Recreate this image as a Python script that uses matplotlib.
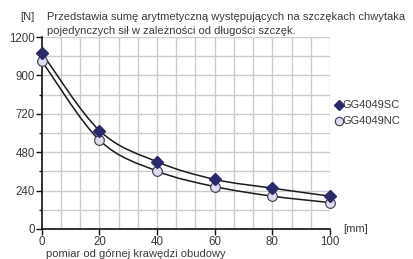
import numpy as np
import matplotlib
matplotlib.use("Agg")
import matplotlib.pyplot as plt
from matplotlib.path import Path
from matplotlib.patches import PathPatch

plt.rcParams['font.family'] = ['Liberation Sans', 'DejaVu Sans']

# data
dist_mm = [0, 20, 40, 60, 80, 100]
force_sc = [1100, 615, 420, 310, 255, 205]
force_nc = [1050, 555, 362, 265, 205, 165]
series_names = ["GG4049SC", "GG4049NC"]
y_ticks = [0, 240, 480, 720, 960, 1200]
y_tick_labels = ["0", "240", "480", "720", "900", "1200"]
x_ticks = [0, 20, 40, 60, 80, 100]

TXT = "#3a3a3a"
FS = 8.0


def smooth_path(xs, ys):
    # Catmull-Rom through the points, drawn as bezier segments
    xs = np.asarray(xs, float)
    ys = np.asarray(ys, float)
    pts = np.column_stack([xs, ys])
    verts = [pts[0]]
    codes = [Path.MOVETO]
    n = len(pts)
    for i in range(n - 1):
        p0 = pts[i - 1] if i > 0 else pts[i]
        p1 = pts[i]
        p2 = pts[i + 1]
        p3 = pts[i + 2] if i + 2 < n else pts[i + 1]
        c1 = p1 + (p2 - p0) / 6.0
        c2 = p2 - (p3 - p1) / 6.0
        verts += [c1, c2, p2]
        codes += [Path.CURVE4] * 3
    return Path(verts, codes)


fig = plt.figure(figsize=(4.14, 2.59), dpi=100)
ax = fig.add_axes([0.101, 0.116, 0.696, 0.741])

ax.set_xlim(0, 100)
ax.set_ylim(0, 1200)

# grid
for gx in np.arange(1, 16) * 100 / 15:
    ax.axvline(gx, color="#cccccc", lw=1.0, zorder=0)
for gy in np.arange(1, 11) * 120:
    ax.axhline(gy, color="#cccccc", lw=1.0, zorder=0)

for ys in (force_sc, force_nc):
    ax.add_patch(PathPatch(smooth_path(dist_mm, ys), fill=False,
                           edgecolor="#1a1a1a", lw=1.1, zorder=2))

ax.plot(dist_mm, force_sc, linestyle="none", marker="D", ms=6,
        mfc="#2a2a6a", mec="#2a2a6a", zorder=4, clip_on=False)
ax.plot(dist_mm, force_nc, linestyle="none", marker="o", ms=7,
        mfc="#dcdcee", mec="#3a3a4a", mew=0.8, zorder=3, clip_on=False)

for s in ("top", "right"):
    ax.spines[s].set_visible(False)
ax.spines["left"].set_color("#111111")
ax.spines["bottom"].set_color("#111111")
ax.spines["left"].set_linewidth(1.2)
ax.spines["bottom"].set_linewidth(1.2)

ax.set_yticks(y_ticks)
ax.set_yticklabels(y_tick_labels)
ax.set_yticks(np.arange(120, 1200, 240), minor=True)
ax.set_xticks(x_ticks)
ax.tick_params(axis="both", which="major", length=4, width=1, color="#111111",
               labelsize=FS + 0.3, labelcolor=TXT, pad=1)
ax.tick_params(axis="y", which="minor", length=2, width=1, color="#111111")

# legend by hand
fig.text(0.828, 0.594, series_names[0], fontsize=FS, color=TXT, va="center")
fig.text(0.828, 0.532, series_names[1], fontsize=FS, color=TXT, va="center")
fig.lines.append(plt.Line2D([0.820], [0.594], transform=fig.transFigure,
                            marker="D", ms=5, mfc="#2a2a6a", mec="#2a2a6a"))
fig.lines.append(plt.Line2D([0.820], [0.532], transform=fig.transFigure,
                            marker="o", ms=6, mfc="#dcdcee", mec="#3a3a4a", mew=0.8))

# texts
fig.text(0.048, 0.934, "[N]", fontsize=FS, color=TXT, va="center")
fig.text(0.114, 0.934, "Przedstawia sumę arytmetyczną występujących na szczękach chwytaka",
         fontsize=FS, color=TXT, va="center")
fig.text(0.114, 0.880, "pojedynczych sił w zależności od długości szczęk.",
         fontsize=FS, color=TXT, va="center")
fig.text(0.828, 0.116, "[mm]", fontsize=FS, color=TXT, va="center")
fig.text(0.112, 0.018, "pomiar od górnej krawędzi obudowy", fontsize=FS, color=TXT,
         va="center")

fig.savefig("out.png", dpi=100)
